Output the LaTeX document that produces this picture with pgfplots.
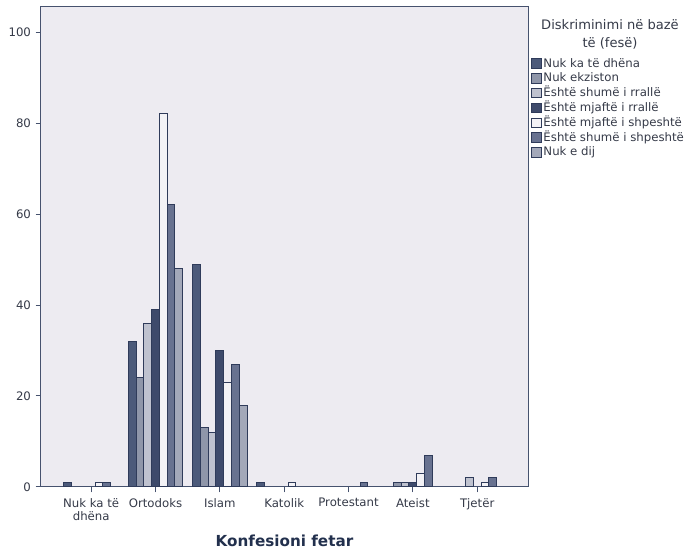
\documentclass[border=0pt]{standalone}
\usepackage{fontspec}
\setmainfont{DejaVu Sans}
\usepackage{pgfplots}
\pgfplotsset{compat=1.18}
\definecolor{cA}{HTML}{4C5A7A}
\definecolor{cB}{HTML}{8F96A9}
\definecolor{cC}{HTML}{BFC2CF}
\definecolor{cD}{HTML}{3E4A6B}
\definecolor{cE}{HTML}{F3F2F6}
\definecolor{cF}{HTML}{687290}
\definecolor{cG}{HTML}{A3A8B9}
\definecolor{edge}{HTML}{2F3B5A}
\definecolor{bgc}{HTML}{EDEBF1}
\definecolor{axc}{HTML}{46526E}
\definecolor{txt}{HTML}{353A48}
\definecolor{lbl}{HTML}{22304D}
\begin{document}
\begin{tikzpicture}
\begin{axis}[
  at={(0,0)}, anchor=south west,
  scale only axis, width=365.25pt, height=360pt,
  xmin=-0.78, xmax=6.79, ymin=0, ymax=105.5,
  clip=false,
  axis background/.style={fill=bgc},
  axis line style={draw=axc, line width=0.75pt},
  ytick={0,20,40,60,80,100}, xtick={0,1,2,3,4,5,6},
  xticklabels={{Nuk ka të\\dhëna},Ortodoks,Islam,Katolik,Protestant,Ateist,Tjetër},
  xticklabel style={align=center, font=\fontsize{8.8}{9.75}\selectfont, text=txt, yshift=-1pt},
  yticklabel style={font=\fontsize{8.8}{10}\selectfont, text=txt},
  /pgf/number format/assume math mode=true,
  tick align=outside, major tick length=4pt,
  tick style={draw=axc, line width=0.75pt},
  xtick pos=left, ytick pos=left,
  minor tick num=0,
  xlabel={Konfesioni fetar},
  xlabel style={font=\fontsize{11.4}{13}\selectfont\bfseries, text=lbl, at={(axis description cs:0.5,0)}, anchor=center, yshift=-40.5pt},
  ybar, bar width=0.121,
  every axis plot/.append style={draw=edge, line width=0.75pt},
  legend image code/.code={\draw[#1, line width=0.75pt] (0pt,-3.4pt) rectangle (7.5pt,3.6pt);},
  legend cell align=left,
  legend style={draw=none, fill=none, inner sep=0pt, outer sep=0pt,
    at={(rel axis cs:1,1)}, anchor=north west, xshift=2.6pt, yshift=-37pt,
    row sep=0pt, column sep=0pt,
    nodes={inner sep=0.75pt, font=\fontsize{8.8}{10}\selectfont, text=txt, text height=7.3pt, text depth=2.3pt}},
]
\addplot[fill=cA, bar shift=-0.363] coordinates {(0,1) (1,32) (2,49) (3,1)};
\addlegendentry{Nuk ka të dhëna}
\addplot[fill=cB, bar shift=-0.242] coordinates {(1,24) (2,13) (5,1)};
\addlegendentry{Nuk ekziston}
\addplot[fill=cC, bar shift=-0.121] coordinates {(1,36) (2,12) (5,1) (6,2)};
\addlegendentry{Është shumë i rrallë}
\addplot[fill=cD, bar shift=0] coordinates {(1,39) (2,30) (5,1)};
\addlegendentry{Është mjaftë i rrallë}
\addplot[fill=cE, bar shift=0.121] coordinates {(0,1) (1,82) (2,23) (3,1) (5,3) (6,1)};
\addlegendentry{Është mjaftë i shpeshtë}
\addplot[fill=cF, bar shift=0.242] coordinates {(0,1) (1,62) (2,27) (4,1) (5,7) (6,2)};
\addlegendentry{Është shumë i shpeshtë}
\addplot[fill=cG, bar shift=0.363] coordinates {(1,48) (2,18)};
\addlegendentry{Nuk e dij}
\node[font=\fontsize{9.8}{12}\selectfont, text=txt, anchor=base, inner sep=0pt]
  at ([xshift=61.5pt, yshift=-17.25pt]rel axis cs:1,1) {Diskriminimi në bazë};
\node[font=\fontsize{9.8}{12}\selectfont, text=txt, anchor=base, inner sep=0pt]
  at ([xshift=61.5pt, yshift=-30.3pt]rel axis cs:1,1) {të (fesë)};
\end{axis}
\pgfresetboundingbox
\path (-30.75pt,-48.75pt) rectangle (486pt,365.25pt);
\end{tikzpicture}
\end{document}
